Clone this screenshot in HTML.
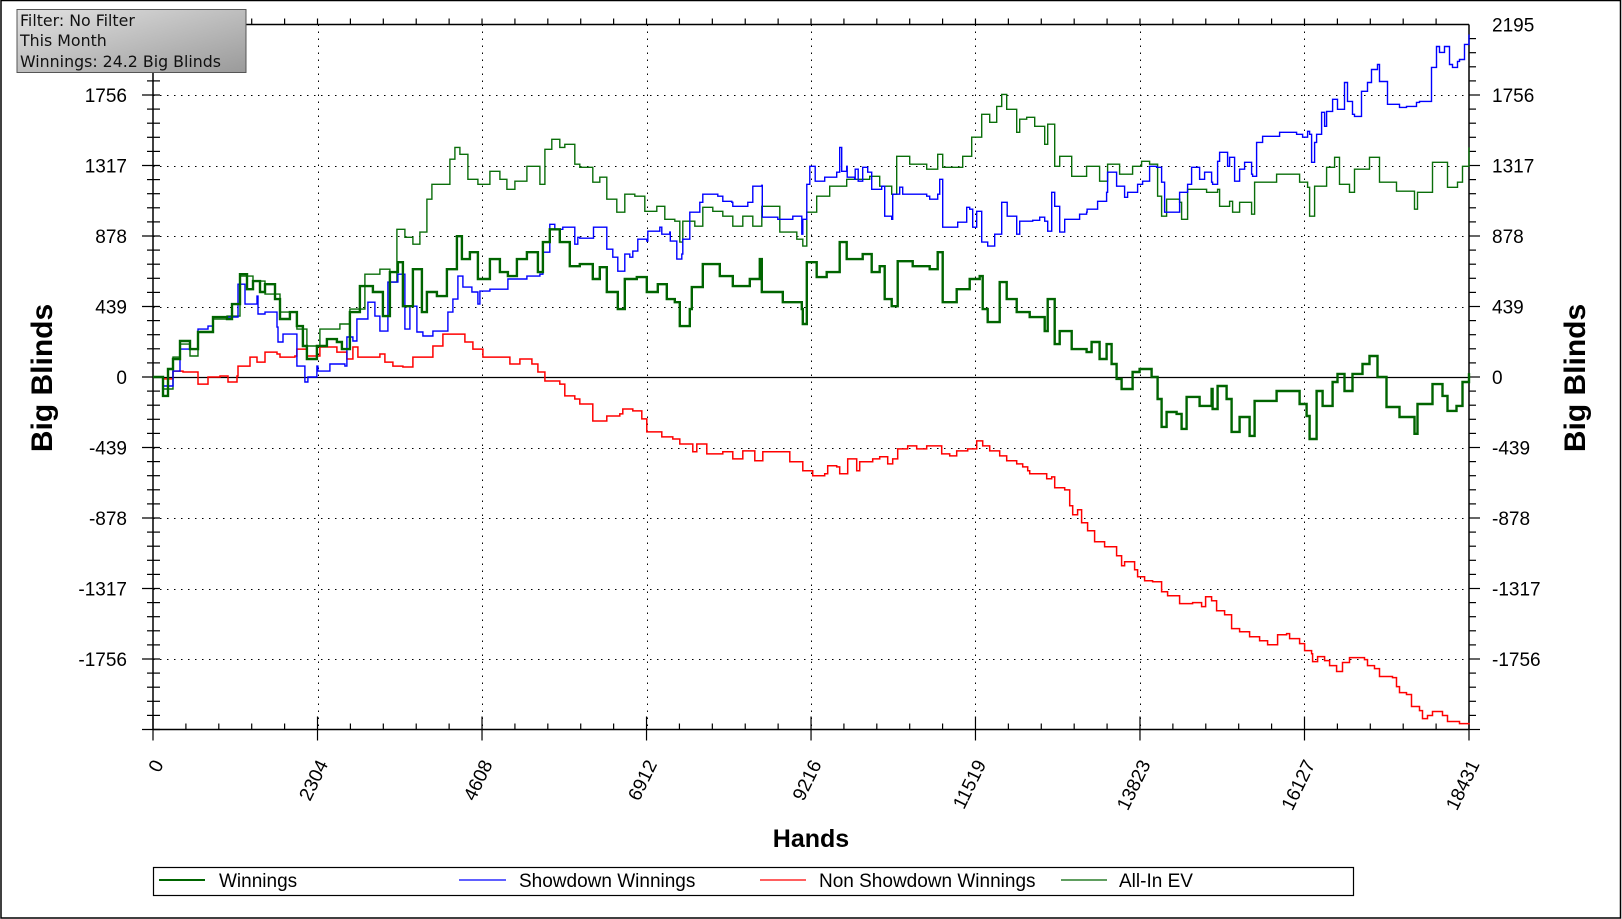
<!DOCTYPE html>
<html><head><meta charset="utf-8"><style>
html,body{margin:0;padding:0;background:#fff;}
svg{display:block;font-family:"Liberation Sans",Arial,sans-serif;}
</style></head><body>
<svg id="chart" width="1622" height="919" viewBox="0 0 1622 919" xmlns="http://www.w3.org/2000/svg">
<rect x="1" y="0.5" width="1619.5" height="917.5" fill="#fff" stroke="#000" stroke-width="1.5"/>
<g id="grid"></g>
<g id="axes"></g>
<g id="series"></g>
<text x="44" y="378" font-size="30" font-weight="bold" text-anchor="middle" dominant-baseline="middle" transform="rotate(-90 44 378)">Big Blinds</text>
<text x="1577" y="378" font-size="30" font-weight="bold" text-anchor="middle" dominant-baseline="middle" transform="rotate(-90 1577 378)">Big Blinds</text>
<text x="811" y="847" font-size="25" font-weight="bold" text-anchor="middle">Hands</text>
<g>
<rect x="153.5" y="867.5" width="1200" height="28" fill="#fff" stroke="#000" stroke-width="1.2"/>
<g><line x1="159" y1="880" x2="205" y2="880" stroke="#006400" stroke-width="2"/><text x="219" y="887" font-size="19">Winnings</text></g>
<g><line x1="459" y1="880" x2="506" y2="880" stroke="#0000ff" stroke-width="1.2"/><text x="519" y="887" font-size="19">Showdown Winnings</text></g>
<g><line x1="760" y1="880" x2="806" y2="880" stroke="#ff0000" stroke-width="1.2"/><text x="819" y="887" font-size="19">Non Showdown Winnings</text></g>
<g><line x1="1061" y1="880" x2="1107" y2="880" stroke="#006400" stroke-width="1.2"/><text x="1119" y="887" font-size="19">All-In EV</text></g>
</g>
<defs><linearGradient id="ig" x1="0" y1="0" x2="1" y2="1"><stop offset="0" stop-color="#e2e2e2"/><stop offset="1" stop-color="#9a9a9a"/></linearGradient></defs>
<g>
<rect x="17" y="9.5" width="229" height="63" fill="url(#ig)" stroke="#555" stroke-width="1"/>
<text x="20" y="26" font-size="15.8" font-family="DejaVu Sans, sans-serif" fill="#111">Filter: No Filter</text>
<text x="20" y="46" font-size="15.8" font-family="DejaVu Sans, sans-serif" fill="#111">This Month</text>
<text x="20" y="67" font-size="15.8" font-family="DejaVu Sans, sans-serif" fill="#111">Winnings: 24.2 Big Blinds</text>
</g>
</svg>
<script>
const yTicks=[-2195,-1756,-1317,-878,-439,0,439,878,1317,1756,2195];
const yTickLabels=["","-1756","-1317","-878","-439","0","439","878","1317","1756","2195"];
const xTicks=[0,2304,4608,6912,9216,11519,13823,16127,18431];
const xTickLabels=["0","2304","4608","6912","9216","11519","13823","16127","18431"];
const winHands=[0,140,210,280,378,448,518,630,840,1036,1106,1218,1316,1400,1498,1568,1708,1778,1918,2016,2100,2156,2296,2436,2576,2646,2758,2898,3080,3220,3318,3430,3500,3640,3766,3836,3976,4116,4256,4326,4438,4550,4718,4858,4970,5096,5236,5390,5460,5558,5698,5838,5978,6160,6258,6356,6510,6608,6776,6916,7070,7196,7308,7378,7518,7546,7700,7938,8120,8358,8498,8526,8820,9086,9100,9156,9296,9436,9618,9716,9940,10066,10178,10248,10346,10430,10640,10878,10990,11060,11256,11438,11578,11620,11690,11858,11956,12096,12278,12488,12530,12628,12698,12866,13076,13146,13258,13356,13426,13496,13566,13720,13818,13986,14070,14126,14196,14336,14406,14476,14658,14826,14840,14910,15036,15106,15218,15358,15428,15736,16058,16156,16198,16296,16380,16520,16590,16688,16800,16940,17038,17150,17276,17458,17668,17710,17920,18060,18130,18256,18340,18431];
const winValues=[0,-118,50,112,224,224,174,280,373,361,454,640,547,597,529,578,485,361,404,317,193,112,193,236,218,174,404,566,529,379,653,715,441,671,404,529,504,671,877,734,777,610,734,653,628,734,777,653,840,920,840,690,703,610,684,529,423,610,622,529,578,485,466,317,423,560,703,628,566,610,734,529,466,423,330,715,622,653,840,734,765,653,690,485,441,721,690,671,777,466,547,610,628,423,342,591,485,404,373,286,485,205,286,174,155,218,112,205,81,-12,-75,31,50,0,-137,-311,-218,-230,-323,-124,-180,-75,-199,-56,-137,-342,-249,-367,-149,-87,-168,-243,-386,-87,-180,-31,19,-87,19,81,131,0,-187,-249,-354,-168,-44,-118,-211,-180,-31,24];
const evHands=[0,140,280,378,518,630,840,1036,1218,1400,1568,1778,2016,2156,2338,2478,2618,2758,2968,3178,3318,3416,3528,3640,3738,3836,3906,4158,4228,4298,4410,4550,4718,4858,4956,5068,5236,5418,5488,5586,5698,5768,5908,5978,6160,6258,6356,6496,6608,6748,6888,7056,7168,7308,7378,7420,7588,7700,7840,7980,8120,8260,8400,8526,8778,9016,9100,9156,9296,9478,9716,9940,10038,10178,10346,10416,10598,10836,10990,11060,11340,11466,11606,11718,11816,11886,11956,12096,12138,12236,12348,12488,12530,12628,12698,12866,13076,13258,13370,13538,13720,13846,13958,14070,14126,14196,14378,14406,14490,14756,14910,14938,15078,15120,15218,15386,15428,15736,16058,16170,16198,16268,16436,16548,16618,16758,16828,17038,17178,17416,17668,17710,17920,18130,18270,18340,18431];
const evValues=[0,-75,124,205,131,280,361,379,628,597,516,404,298,193,298,298,330,423,640,671,591,920,870,827,902,1107,1200,1356,1430,1387,1231,1200,1281,1231,1169,1219,1312,1200,1418,1480,1430,1449,1325,1306,1213,1244,1107,1026,1138,1126,1032,1063,982,970,840,970,939,1057,1032,1001,939,1001,939,1063,902,858,815,1026,1126,1188,1231,1231,1250,1188,1138,1374,1325,1294,1387,1306,1374,1493,1636,1586,1685,1760,1667,1524,1605,1617,1561,1449,1574,1312,1374,1250,1312,1219,1325,1263,1312,1343,1325,1126,1001,1107,1088,982,1169,1150,1169,1063,1094,1026,1088,1014,1213,1263,1213,1181,1001,1188,1306,1368,1200,1150,1294,1368,1213,1157,1045,1150,1337,1181,1213,1312,1430];
const sdHands=[0,140,280,378,518,630,770,840,1036,1190,1288,1456,1470,1568,1736,1750,1820,1946,2016,2128,2170,2296,2310,2478,2688,2716,2800,2856,3010,3108,3178,3276,3290,3430,3528,3598,3696,3780,3920,4130,4200,4270,4340,4466,4550,4578,4718,4858,4970,5236,5418,5460,5558,5628,5740,5866,5908,5950,5978,6160,6170,6300,6356,6440,6510,6580,6608,6678,6720,6790,6916,6930,7098,7126,7238,7245,7336,7406,7420,7518,7658,7700,7910,7980,8106,8120,8330,8400,8526,8533,8596,8750,8960,9086,9100,9156,9198,9268,9275,9408,9576,9618,9646,9716,9723,9828,9835,9870,9877,9940,10010,10066,10206,10248,10346,10360,10458,10500,10640,10836,10878,10990,11018,11060,11116,11270,11396,11438,11480,11536,11578,11606,11690,11788,11886,11956,11963,12096,12138,12320,12418,12488,12530,12586,12628,12698,12768,12978,13076,13083,13230,13356,13370,13496,13608,13650,13790,13860,13958,14056,14126,14168,14378,14420,14490,14546,14658,14728,14826,14840,14910,14938,15050,15078,15148,15218,15288,15386,15400,15456,15540,15778,16016,16100,16170,16198,16226,16268,16296,16366,16408,16436,16520,16590,16688,16730,16800,16828,16926,17010,17066,17150,17178,17290,17458,17556,17696,17738,17906,17920,17976,18018,18088,18158,18200,18270,18298,18368,18431];
const sdValues=[0,-56,37,174,174,298,317,373,373,578,454,504,392,404,311,218,267,267,68,-31,0,68,37,81,68,249,224,361,466,379,286,286,591,640,298,441,280,255,286,404,485,628,560,529,454,535,547,547,610,628,640,777,951,920,933,933,827,870,864,864,933,933,796,746,659,659,765,746,784,858,846,908,933,889,902,846,734,765,858,1026,1088,1138,1126,1094,1088,1063,1088,1188,1194,995,995,982,1001,889,982,1200,1312,1312,1219,1244,1275,1430,1281,1312,1244,1231,1294,1294,1219,1306,1275,1169,1188,1001,982,1138,1182,1138,1138,1126,1107,1138,1231,933,933,964,1057,1045,933,1032,1032,840,815,889,1088,1088,1001,889,970,976,995,970,908,1150,1063,902,982,1014,1026,1045,1094,1150,1275,1188,1119,1150,1200,1219,1312,1306,1213,1026,1150,1150,1200,1306,1231,1275,1213,1200,1343,1399,1312,1368,1219,1294,1337,1263,1250,1461,1499,1524,1511,1493,1530,1511,1337,1461,1511,1648,1561,1654,1729,1667,1834,1716,1636,1623,1779,1834,1915,1946,1840,1698,1679,1685,1710,1716,1928,1928,2058,2021,2058,1946,1928,1965,1977,2071,2133,2195];
const nsdHands=[0,140,280,420,630,770,938,1050,1176,1190,1358,1456,1568,1736,1778,1988,2016,2156,2338,2576,2716,2800,2870,3178,3248,3360,3500,3640,3836,3920,4060,4298,4368,4480,4620,4858,4998,5138,5306,5390,5488,5698,5768,5908,5978,6160,6356,6538,6580,6720,6846,6916,7126,7280,7378,7560,7616,7756,7980,8120,8260,8428,8540,8736,8918,9100,9240,9408,9450,9576,9618,9730,9856,9898,10080,10178,10290,10360,10430,10570,10696,10836,10976,11046,11158,11256,11410,11536,11620,11718,11858,11956,12096,12180,12250,12278,12516,12586,12628,12768,12838,12880,12950,13006,13090,13188,13328,13496,13566,13608,13748,13790,13888,14000,14126,14210,14378,14560,14686,14742,14826,14896,15008,15078,15106,15218,15358,15498,15610,15750,15876,15918,16058,16128,16226,16240,16310,16408,16478,16576,16660,16758,16968,17010,17108,17178,17360,17416,17458,17556,17626,17738,17780,17850,17920,18060,18130,18298,18431];
const nsdValues=[0,-12,37,31,-44,0,6,-31,6,68,124,93,155,143,124,131,174,131,187,155,112,187,124,143,93,68,62,124,124,193,267,267,218,174,124,124,81,112,81,31,-25,-44,-118,-137,-168,-274,-243,-230,-199,-211,-261,-342,-373,-386,-417,-466,-417,-479,-466,-510,-460,-522,-466,-466,-528,-584,-615,-603,-553,-560,-603,-510,-584,-528,-510,-497,-541,-510,-448,-429,-448,-429,-429,-479,-491,-460,-448,-398,-429,-460,-491,-522,-541,-560,-584,-603,-634,-622,-690,-703,-802,-858,-827,-908,-958,-1026,-1057,-1113,-1175,-1150,-1200,-1244,-1269,-1275,-1337,-1362,-1411,-1405,-1430,-1368,-1393,-1455,-1480,-1480,-1567,-1586,-1617,-1642,-1667,-1605,-1598,-1629,-1660,-1704,-1723,-1772,-1741,-1766,-1797,-1834,-1778,-1747,-1760,-1797,-1816,-1865,-1872,-1928,-1965,-1977,-2052,-2077,-2127,-2108,-2083,-2108,-2145,-2158,-2164];

const NS='http://www.w3.org/2000/svg';
const L=153,R=1469,T=24.5,B=729.5,XMAX=18431,YMIN=-2195,YMAX=2195;
const xs=h=>L+(h/XMAX)*(R-L);
const ys=v=>B-(v-YMIN)/(YMAX-YMIN)*(B-T);
function mk(tag,attrs,parent){const e=document.createElementNS(NS,tag);for(const k in attrs)e.setAttribute(k,attrs[k]);parent.appendChild(e);return e;}
const grid=document.getElementById('grid'),axes=document.getElementById('axes'),series=document.getElementById('series');
yTicks.forEach((v,i)=>{if(i===0||i===yTicks.length-1)return;const y=Math.round(ys(v))+0.5;
 const g=mk('line',{x1:L,x2:R,y1:y,y2:y,stroke:'#000','stroke-width':v===0?1.2:1,'stroke-dasharray':v===0?'none':'1.5 5.5'},grid);
 
 });
xTicks.forEach((h,i)=>{if(i===0||i===xTicks.length-1)return;const x=Math.round(xs(h))+0.5;
 const g=mk('line',{x1:x,x2:x,y1:T,y2:B,stroke:'#000','stroke-width':1,'stroke-dasharray':'1.5 5.5'},grid);
 
 });
const al=[[L,T,R,T],[L,B,R,B],[L,T,L,B],[R,T,R,B]];
al.forEach(a=>{const e=mk('line',{x1:a[0],y1:a[1],x2:a[2],y2:a[3],stroke:'#000','stroke-width':1.5},axes);
 
 });
for(let i=0;i<yTicks.length-1;i++){for(let k=0;k<5;k++){const v=yTicks[i]+(yTicks[i+1]-yTicks[i])*k/5;const y=ys(v);const major=k===0;
 mk('line',{x1:major?L-11:L-6,x2:L+7,y1:y,y2:y,stroke:'#000','stroke-width':1.2},axes);
 mk('line',{x1:R,x2:R+(major?11:7),y1:y,y2:y,stroke:'#000','stroke-width':1.2},axes);}}
yTicks.forEach((v,i)=>{const y=ys(v);const lab=yTickLabels[i];if(!lab)return;
 const t1=mk('text',{x:127,y:y+7,'font-size':19,'text-anchor':'end'},axes);t1.textContent=lab;
 
 
 const t2=mk('text',{x:1492,y:y+7,'font-size':19,'text-anchor':'start'},axes);t2.textContent=lab;
 
 });
for(let i=0;i<xTicks.length-1;i++){for(let k=0;k<5;k++){const h=xTicks[i]+(xTicks[i+1]-xTicks[i])*k/5;const x=xs(h);const major=k===0;
 mk('line',{x1:x,x2:x,y1:major?B-13:B-6,y2:major?B+11:B,stroke:'#000','stroke-width':1.2},axes);
 mk('line',{x1:x,x2:x,y1:T-6,y2:T,stroke:'#000','stroke-width':1.2},axes);}}
mk('line',{x1:R,x2:R,y1:B-13,y2:B+11,stroke:'#000','stroke-width':1.2},axes);
xTicks.forEach((h,i)=>{const x=xs(h)+11,y=764;
 const t=mk('text',{x:x,y:y,'font-size':19,'text-anchor':'end',transform:`rotate(-64 ${x} ${y})`},axes);t.textContent=xTickLabels[i];
 
 });
function stepPath(hs,vs){let d='M'+xs(hs[0]).toFixed(1)+' '+ys(vs[0]).toFixed(1);
 for(let i=1;i<hs.length;i++){d+=' H'+xs(hs[i]).toFixed(1)+' V'+ys(vs[i]).toFixed(1);}return d;}
const nsd=mk('path',{d:stepPath(nsdHands,nsdValues),fill:'none',stroke:'#ff0000','stroke-width':1.5},series);


const ev=mk('path',{d:stepPath(evHands,evValues),fill:'none',stroke:'#0a6e0a','stroke-width':1.4},series);


const sd=mk('path',{d:stepPath(sdHands,sdValues),fill:'none',stroke:'#0000ff','stroke-width':1.4},series);


const win=mk('path',{d:stepPath(winHands,winValues),fill:'none',stroke:'#006400','stroke-width':2.4},series);


</script>
</body></html>
